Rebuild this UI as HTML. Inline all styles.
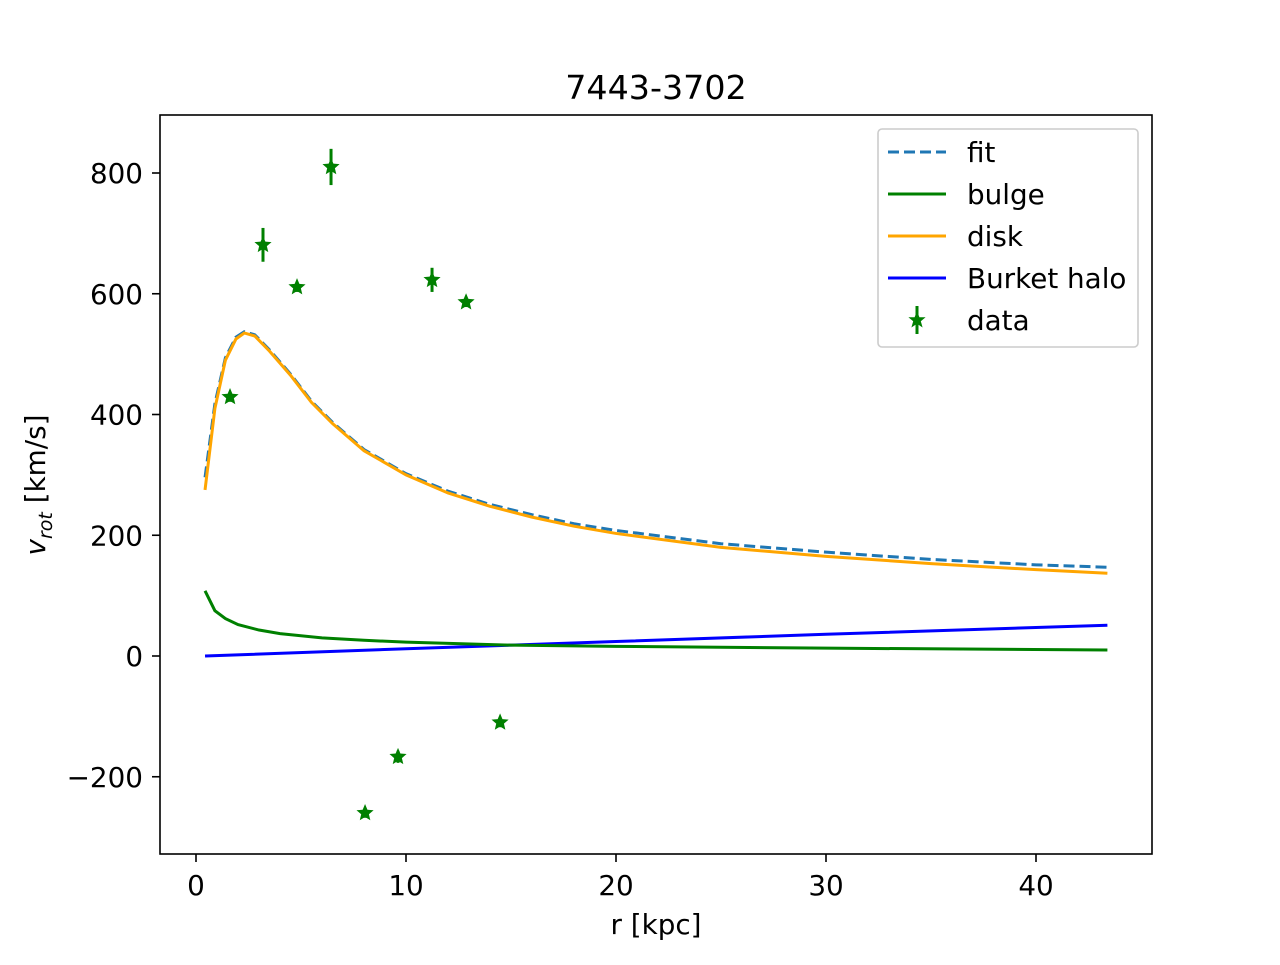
<!DOCTYPE html>
<html><head><meta charset="utf-8"><style>body{margin:0;background:#fff}svg{font-family:"DejaVu Sans","Liberation Sans",sans-serif}</style></head>
<body>
<svg id="chart" width="1280" height="960"></svg>
<script>
const rData=[1.62,3.19,4.81,6.43,8.05,9.62,11.24,12.86,14.48];
const vData=[429,681,611,810,-260,-167,623,586,-110];
const eData=[8,28,8,30,8,10,20,8,8];
const rCurve=[0.43,0.9,1.4,1.9,2.3,2.8,3.5,4.5,5.5,6.5,8,10,12,14,16,18,20,25,30,35,40,43.4];
const vDisk=[275,410,490,525,535,530,505,465,420,385,340,300,270,248,230,215,203,180,165,153,143,137];
const vFit=[296,418,494,528,537,532,507,467,422,387,342,302,273,251,234,219,208,186,172,160,151,147];
const rBulge=[0.43,0.9,1.4,2,3,4,6,8,10,15,20,30,43.4];
const vBulge=[108,75,62,52,43,37,30,26,23,18,16,13,10];
const rHalo=[0.43,10,20,30,43.4];
const vHalo=[0,12,24,36,51];
const xTicks=[0,10,20,30,40];
const yTicks=[-200,0,200,400,600,800];
const NS='http://www.w3.org/2000/svg';
const svg=document.getElementById('chart');
const X=r=>196+21*r, Y=v=>656-0.60375*v;
function mk(t,a,p){const e=document.createElementNS(NS,t);for(const k in a)e.setAttribute(k,a[k]);(p||svg).appendChild(e);return e;}
function line(rs,vs,color,dash,name){const el=mk('polyline',{points:rs.map((r,i)=>X(r)+','+Y(vs[i])).join(' '),fill:'none',stroke:color,'stroke-width':3,'stroke-dasharray':dash||'none'});

}
line(rHalo,vHalo,'#0000ff',null,'burket-halo-line');
line(rBulge,vBulge,'#008000',null,'bulge-line');
line(rCurve,vFit,'#1f77b4','11,5','fit-line');
line(rCurve,vDisk,'#ffa500',null,'disk-line');
function star(cx,cy,R,p){let pts=[];for(let i=0;i<10;i++){const a=-Math.PI/2+i*Math.PI/5,rr=i%2?R*0.45:R;pts.push((cx+rr*Math.cos(a))+','+(cy+rr*Math.sin(a)));}return mk('polygon',{points:pts.join(' '),fill:'#008000'},p);}
rData.forEach((r,i)=>{const g=mk('g',{});


mk('line',{x1:X(r),x2:X(r),y1:Y(vData[i]+eData[i]),y2:Y(vData[i]-eData[i]),stroke:'#008000','stroke-width':3},g);
star(X(r),Y(vData[i]),9,g);});
mk('rect',{x:160,y:115,width:992,height:739,fill:'none',stroke:'#000','stroke-width':1.6});
xTicks.forEach(t=>{mk('line',{x1:X(t),x2:X(t),y1:854,y2:862,stroke:'#000','stroke-width':1.6});
const tx=mk('text',{x:X(t),y:895,'font-size':27.8,'text-anchor':'middle'});tx.textContent=t;

});
yTicks.forEach(t=>{mk('line',{x1:152,x2:160,y1:Y(t),y2:Y(t),stroke:'#000','stroke-width':1.6});
const tx=mk('text',{x:143,y:Y(t)+10,'font-size':27.8,'text-anchor':'end'});tx.textContent=t<0?'\u2212'+(-t):t;

});
</script>
<svg width="1280" height="960" style="position:absolute;left:0;top:0" font-family="DejaVu Sans, Liberation Sans, sans-serif">
<text x="656" y="99" font-size="33.3" text-anchor="middle">7443-3702</text>
<text x="656" y="934" font-size="27.8" text-anchor="middle">r [kpc]</text>
<text transform="translate(45,485) rotate(-90)" font-size="27.8" text-anchor="middle"><tspan font-style="italic">v</tspan><tspan font-size="19" dy="7" font-style="italic">rot</tspan><tspan dy="-7"> [km/s]</tspan></text>
<g>
<rect x="878" y="129" width="260" height="218" rx="4" fill="#fff" fill-opacity="0.8" stroke="#ccc" stroke-width="1.6"/>
<line x1="888" x2="946" y1="152" y2="152" stroke="#1f77b4" stroke-width="3" stroke-dasharray="11,5"/>
<text x="967" y="162" font-size="27.8">fit</text>
<line x1="888" x2="946" y1="194" y2="194" stroke="#008000" stroke-width="3"/>
<text x="967" y="204" font-size="27.8">bulge</text>
<line x1="888" x2="946" y1="236" y2="236" stroke="#ffa500" stroke-width="3"/>
<text x="967" y="246" font-size="27.8">disk</text>
<line x1="888" x2="946" y1="278" y2="278" stroke="#0000ff" stroke-width="3"/>
<text x="967" y="288" font-size="27.8">Burket halo</text>
<line x1="917" x2="917" y1="306" y2="334" stroke="#008000" stroke-width="3"/>
<polygon fill="#008000" points="917,311 919.4,317.2 925.6,317.2 920.8,321.2 922.6,327.5 917,323.8 911.4,327.5 913.2,321.2 908.4,317.2 914.6,317.2"/>
<text x="967" y="330" font-size="27.8">data</text>
</g>
</svg>
</body></html>
